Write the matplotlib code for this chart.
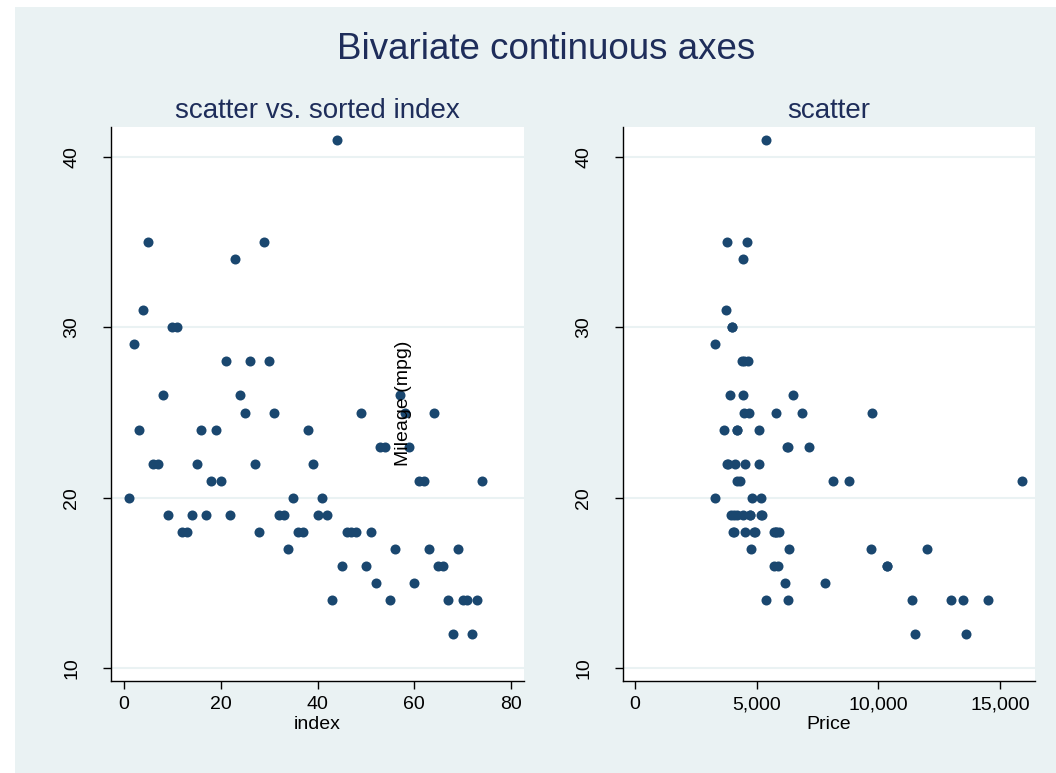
import matplotlib
matplotlib.use("Agg")
import matplotlib.pyplot as plt
from matplotlib.patches import Rectangle

# Auto data sorted by price
price = [3291, 3299, 3667, 3748, 3798, 3799, 3829, 3895, 3955, 3984, 3995,
         4010, 4060, 4082, 4099, 4172, 4181, 4187, 4195, 4296, 4389, 4424,
         4425, 4453, 4482, 4499, 4504, 4516, 4589, 4647, 4697, 4723, 4733,
         4749, 4816, 4890, 4934, 5079, 5104, 5172, 5189, 5222, 5379, 5397,
         5705, 5719, 5788, 5798, 5799, 5886, 5899, 6165, 6229, 6295, 6303,
         6342, 6486, 6850, 7140, 7827, 8129, 8814, 9690, 9735, 10371, 10372,
         11385, 11497, 11995, 12990, 13466, 13594, 14500, 15906]
mpg = [20, 29, 24, 31, 35, 22, 22, 26, 19, 30, 30,
       18, 18, 19, 22, 24, 19, 21, 24, 21, 28, 19,
       34, 26, 25, 28, 22, 18, 35, 28, 25, 19, 19,
       17, 20, 18, 18, 24, 22, 19, 20, 19, 14, 41,
       16, 18, 18, 18, 25, 16, 18, 15, 23, 23, 14,
       17, 26, 25, 23, 15, 21, 21, 17, 25, 16, 16,
       14, 12, 17, 14, 14, 12, 14, 21]
index = list(range(1, len(mpg) + 1))

yticks = [10, 20, 30, 40]
xticks_left = [0, 20, 40, 60, 80]
xticks_right = [0, 5000, 10000, 15000]
xticklabels_right = ["0", "5,000", "10,000", "15,000"]

navy = "#1a476f"
headc = "#1e2d5a"
bg = "#eaf2f3"
W, H = 1056, 773
plt.rcParams['font.family'] = ['Liberation Sans', 'DejaVu Sans']

fig = plt.figure(figsize=(W / 100, H / 100), dpi=100, facecolor="white")
fig.patches.append(Rectangle((15 / W, 0), 1, (H - 7) / H,
                             transform=fig.transFigure, facecolor=bg,
                             edgecolor="none", zorder=-10))

def box(l, t, r, b):
    return [l / W, 1 - b / H, (r - l) / W, (b - t) / H]

axL = fig.add_axes(box(111, 127, 524, 681))
axR = fig.add_axes(box(623, 127, 1035, 681))

for ax in (axL, axR):
    ax.set_facecolor("white")
    ax.spines['top'].set_visible(False)
    ax.spines['right'].set_visible(False)
    for s in ('left', 'bottom'):
        ax.spines[s].set_color("black")
        ax.spines[s].set_linewidth(1.0)
    ax.set_ylim(9.24, 41.76)
    ax.set_yticks(yticks)
    ax.set_yticklabels([str(v) for v in yticks], rotation=90, va="center")
    ax.tick_params(axis="both", direction="out", length=6, width=1,
                   labelsize=14, colors="black", pad=5)
    ax.tick_params(axis="y", pad=16)
    ax.grid(axis="y", color=bg, linewidth=1.5)
    ax.set_axisbelow(True)

axL.scatter(index, mpg, s=52, color=navy, zorder=3, linewidths=0)
axL.set_xlim(-2.69, 82.69)
axL.set_xticks(xticks_left)
axL.set_xlabel("index", fontsize=14, labelpad=2)
axL.set_title("scatter vs. sorted index", fontsize=20, color=headc, pad=6.5)

axR.scatter(price, mpg, s=52, color=navy, zorder=3, linewidths=0)
axR.set_xlim(-493, 16439)
axR.set_xticks(xticks_right)
axR.set_xticklabels(xticklabels_right)
axR.set_xlabel("Price", fontsize=14, labelpad=2)
axR.set_title("scatter", fontsize=20, color=headc, pad=6.5)

fig.text(403 / W, 1 - 403 / H, "Mileage (mpg)", rotation=90, ha="center",
         va="center", fontsize=14, color="black")
fig.text(546 / W, 1 - 59 / H, "Bivariate continuous axes", ha="center",
         va="baseline", fontsize=26.5, color=headc)

fig.savefig("out.png", dpi=100, facecolor=fig.get_facecolor())
